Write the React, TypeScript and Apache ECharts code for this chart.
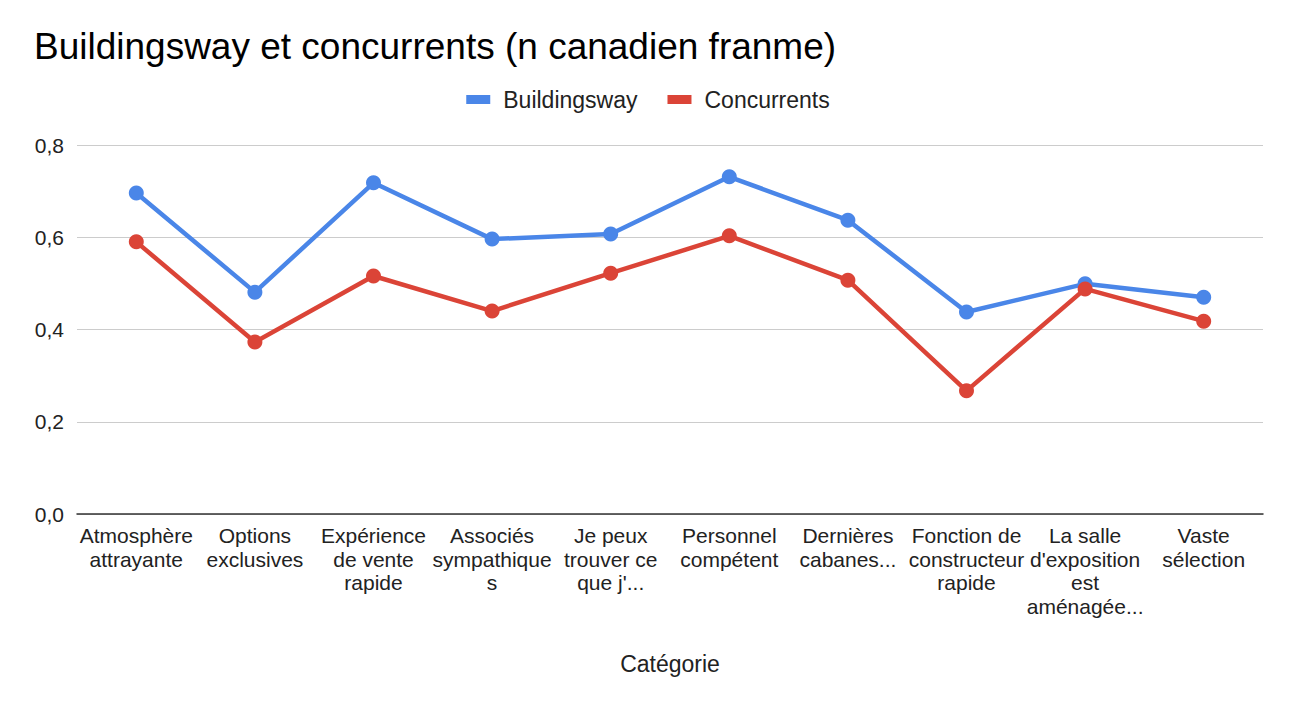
import React, { useEffect, useRef } from "react";
import * as echarts from "echarts";

const categories = [
  "Atmosphère\nattrayante",
  "Options\nexclusives",
  "Expérience\nde vente\nrapide",
  "Associés\nsympathique\ns",
  "Je peux\ntrouver ce\nque j'...",
  "Personnel\ncompétent",
  "Dernières\ncabanes...",
  "Fonction de\nconstructeur\nrapide",
  "La salle\nd'exposition\nest\naménagée...",
  "Vaste\nsélection",
];

const buildingsway = [0.696, 0.481, 0.718, 0.596, 0.607, 0.731, 0.637, 0.438, 0.499, 0.47];
const concurrents = [0.59, 0.373, 0.516, 0.44, 0.522, 0.603, 0.507, 0.267, 0.488, 0.418];

const yTicks = [0, 0.2, 0.4, 0.6, 0.8];

const FONT = "'Liberation Sans', Arial, sans-serif";

export default function App() {
  const ref = useRef<HTMLDivElement>(null);

  useEffect(() => {
    if (!ref.current) return;
    const chart = echarts.init(ref.current, undefined, { renderer: "svg" });
    chart.setOption({
      animation: false,
      backgroundColor: "#ffffff",
      textStyle: { fontFamily: FONT },
      title: {
        text: "Buildingsway et concurrents (n canadien franme)",
        left: 21,
        top: 15,
        textStyle: { fontFamily: FONT, fontSize: 37, fontWeight: "normal", color: "#000" },
      },
      legend: {
        top: 75,
        left: "center",
        itemWidth: 24,
        itemHeight: 9,
        itemGap: 30,
        icon: "rect",
        textStyle: { fontFamily: FONT, fontSize: 23, color: "#222", padding: [0, 0, 0, 8] },
        data: ["Buildingsway", "Concurrents"],
      },
      grid: { left: 69, right: 25, top: 137, bottom: 185, containLabel: false },
      xAxis: {
        type: "category",
        data: categories,
        boundaryGap: true,
        name: "Catégorie",
        nameLocation: "middle",
        nameGap: 138,
        nameTextStyle: { fontFamily: FONT, fontSize: 23, color: "#222" },
        axisLine: { lineStyle: { color: "#333", width: 1.5 } },
        axisTick: { show: false },
        axisLabel: {
          interval: 0,
          fontFamily: FONT,
          fontSize: 21,
          lineHeight: 23.5,
          color: "#222",
          margin: 10,
        },
      },
      yAxis: {
        type: "value",
        min: yTicks[0],
        max: yTicks[yTicks.length - 1],
        interval: 0.2,
        axisLine: { show: false },
        axisTick: { show: false },
        splitLine: { lineStyle: { color: "#cccccc", width: 1.2 } },
        axisLabel: {
          fontFamily: FONT,
          fontSize: 21,
          color: "#222",
          margin: 13,
          formatter: (v: number) => v.toFixed(1).replace(".", ","),
        },
      },
      series: [
        {
          name: "Buildingsway",
          type: "line",
          data: buildingsway,
          color: "#4a86e8",
          symbol: "circle",
          symbolSize: 15,
          lineStyle: { width: 4.5 },
        },
        {
          name: "Concurrents",
          type: "line",
          data: concurrents,
          color: "#db4437",
          symbol: "circle",
          symbolSize: 15,
          lineStyle: { width: 4.5 },
        },
      ],
    });
    return () => chart.dispose();
  }, []);

  return <div ref={ref} style={{ width: 1280, height: 691 }} />;
}
